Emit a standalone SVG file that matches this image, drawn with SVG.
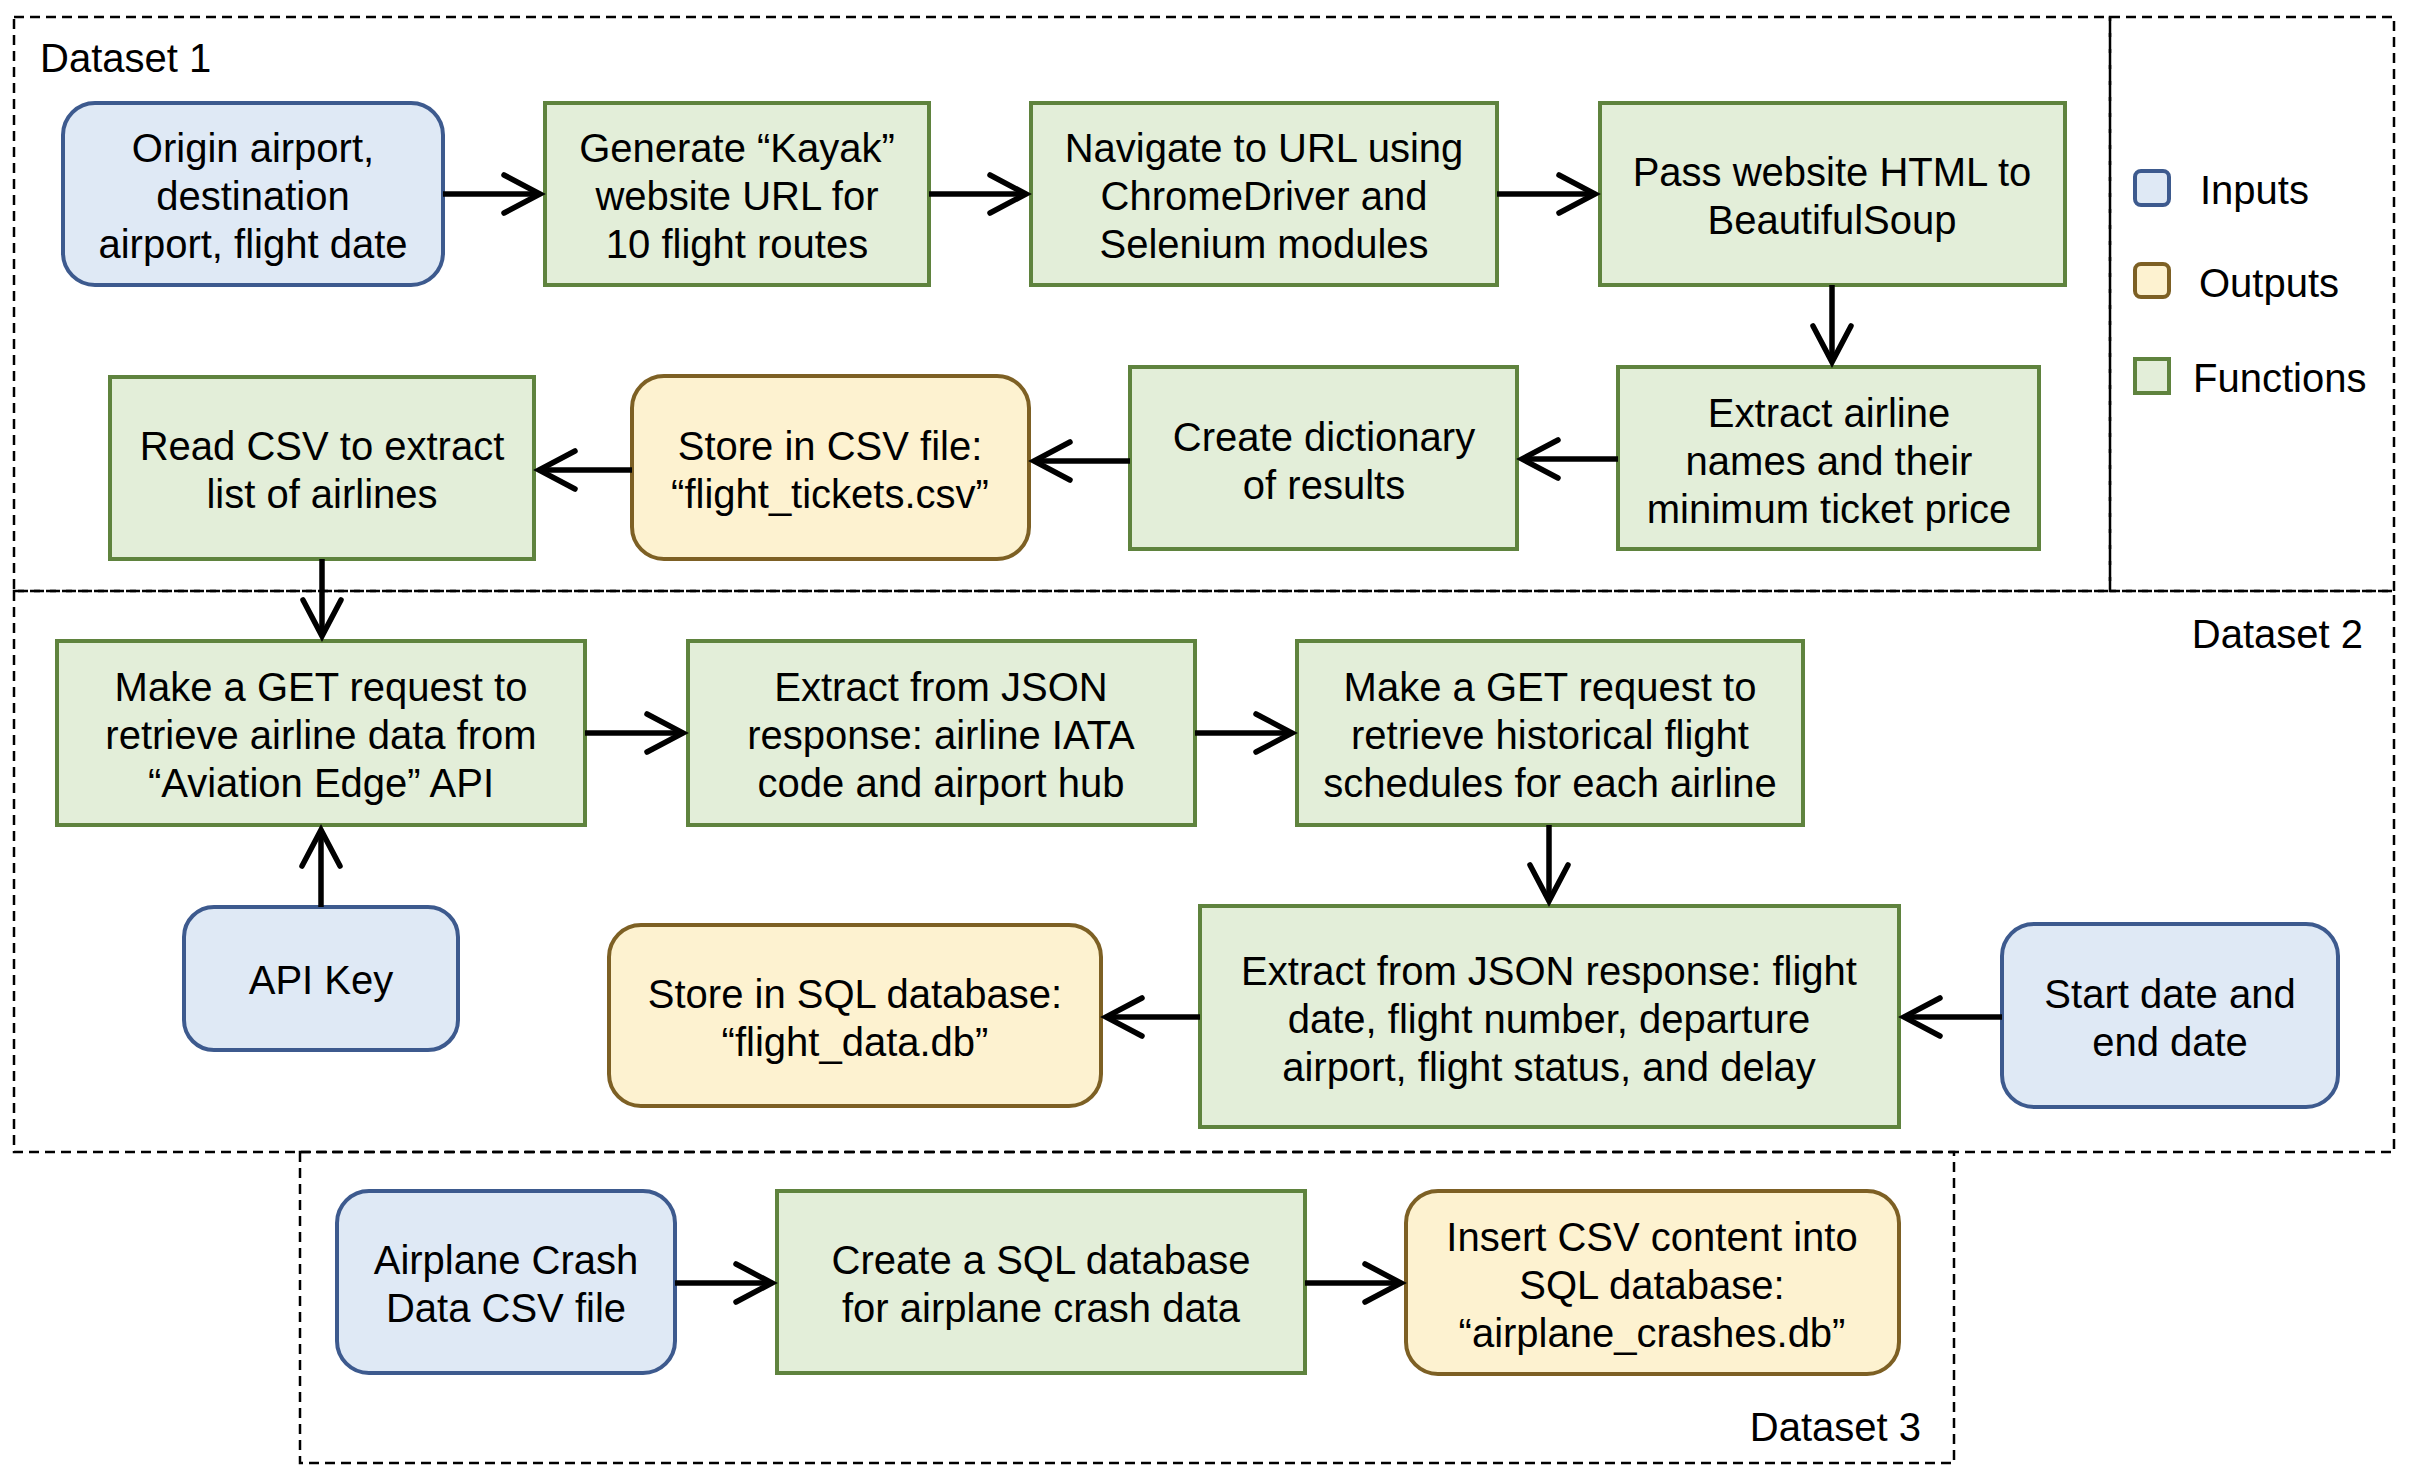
<svg xmlns="http://www.w3.org/2000/svg" width="2412" height="1480" viewBox="0 0 2412 1480">
<style>
.frame{fill:none;stroke:#000;stroke-width:2.5;stroke-dasharray:10 6}
.inp{fill:#dfe9f5;stroke:#3d5a8e;stroke-width:4}
.out{fill:#fdf2d0;stroke:#7d6024;stroke-width:4}
.fn{fill:#e3eed9;stroke:#5f833e;stroke-width:4}
text{font-family:"Liberation Sans",Arial,sans-serif;font-size:40px;fill:#000;transform:translateY(2px)}
.c{text-anchor:middle}
.conn path{fill:none;stroke:#000;stroke-width:5.5;marker-end:url(#ah)}
</style>
<defs>
<marker id="ah" markerUnits="userSpaceOnUse" viewBox="-45 -25 55 50" markerWidth="55" markerHeight="50" refX="0" refY="0" orient="auto">
<path d="M-36,-19 L0,0 L-36,19" fill="none" stroke="#000" stroke-width="5.5" stroke-linecap="round"/>
</marker>
</defs>
<rect width="2412" height="1480" fill="#fff"/>
<g id="frames">
<rect class="frame" x="14" y="17" width="2096" height="574"/>
<rect class="frame" x="2110" y="17" width="284" height="574"/>
<rect class="frame" x="14" y="591" width="2380" height="561"/>
<rect class="frame" x="300" y="1152" width="1654" height="311"/>
<text x="40" y="70">Dataset 1</text>
<text x="2363" y="646" text-anchor="end">Dataset 2</text>
<text x="1921" y="1439" text-anchor="end">Dataset 3</text>
</g>
<g id="legend">
<rect class="inp" x="2135" y="171" width="34" height="34" rx="6"/>
<text x="2200" y="202">Inputs</text>
<rect class="out" x="2135" y="264" width="34" height="33" rx="6"/>
<text x="2199" y="295">Outputs</text>
<rect class="fn" x="2135" y="359" width="34" height="34"/>
<text x="2193" y="390">Functions</text>
</g>
<g id="origin"><rect class="inp" x="63" y="103" width="380" height="182" rx="32"/>
<text class="c" x="253" y="160">Origin airport,</text><text class="c" x="253" y="208">destination</text><text class="c" x="253" y="256">airport, flight date</text></g>
<g id="generate"><rect class="fn" x="545" y="103" width="384" height="182"/>
<text class="c" x="737" y="160">Generate “Kayak”</text><text class="c" x="737" y="208">website URL for</text><text class="c" x="737" y="256">10 flight routes</text></g>
<g id="navigate"><rect class="fn" x="1031" y="103" width="466" height="182"/>
<text class="c" x="1264" y="160">Navigate to URL using</text><text class="c" x="1264" y="208">ChromeDriver and</text><text class="c" x="1264" y="256">Selenium modules</text></g>
<g id="pass"><rect class="fn" x="1600" y="103" width="465" height="182"/>
<text class="c" x="1832" y="184">Pass website HTML to</text><text class="c" x="1832" y="232">BeautifulSoup</text></g>
<g id="extract-airline"><rect class="fn" x="1618" y="367" width="421" height="182"/>
<text class="c" x="1829" y="425">Extract airline</text><text class="c" x="1829" y="473">names and their</text><text class="c" x="1829" y="521">minimum ticket price</text></g>
<g id="create-dict"><rect class="fn" x="1130" y="367" width="387" height="182"/>
<text class="c" x="1324" y="449">Create dictionary</text><text class="c" x="1324" y="497">of results</text></g>
<g id="store-csv"><rect class="out" x="632" y="376" width="397" height="183" rx="32"/>
<text class="c" x="830" y="458">Store in CSV file:</text><text class="c" x="830" y="506">“flight_tickets.csv”</text></g>
<g id="read-csv"><rect class="fn" x="110" y="377" width="424" height="182"/>
<text class="c" x="322" y="458">Read CSV to extract</text><text class="c" x="322" y="506">list of airlines</text></g>
<g id="get-airline"><rect class="fn" x="57" y="641" width="528" height="184"/>
<text class="c" x="321" y="699">Make a GET request to</text><text class="c" x="321" y="747">retrieve airline data from</text><text class="c" x="321" y="795">“Aviation Edge” API</text></g>
<g id="extract-iata"><rect class="fn" x="688" y="641" width="507" height="184"/>
<text class="c" x="941" y="699">Extract from JSON</text><text class="c" x="941" y="747">response: airline IATA</text><text class="c" x="941" y="795">code and airport hub</text></g>
<g id="get-history"><rect class="fn" x="1297" y="641" width="506" height="184"/>
<text class="c" x="1550" y="699">Make a GET request to</text><text class="c" x="1550" y="747">retrieve historical flight</text><text class="c" x="1550" y="795">schedules for each airline</text></g>
<g id="api-key"><rect class="inp" x="184" y="907" width="274" height="143" rx="30"/>
<text class="c" x="321" y="992">API Key</text></g>
<g id="extract-flight"><rect class="fn" x="1200" y="906" width="699" height="221"/>
<text class="c" x="1549" y="983">Extract from JSON response: flight</text><text class="c" x="1549" y="1031">date, flight number, departure</text><text class="c" x="1549" y="1079">airport, flight status, and delay</text></g>
<g id="start-date"><rect class="inp" x="2002" y="924" width="336" height="183" rx="32"/>
<text class="c" x="2170" y="1006">Start date and</text><text class="c" x="2170" y="1054">end date</text></g>
<g id="store-sql"><rect class="out" x="609" y="925" width="492" height="181" rx="32"/>
<text class="c" x="855" y="1006">Store in SQL database:</text><text class="c" x="855" y="1054">“flight_data.db”</text></g>
<g id="crash-csv"><rect class="inp" x="337" y="1191" width="338" height="182" rx="32"/>
<text class="c" x="506" y="1272">Airplane Crash</text><text class="c" x="506" y="1320">Data CSV file</text></g>
<g id="create-sql"><rect class="fn" x="777" y="1191" width="528" height="182"/>
<text class="c" x="1041" y="1272">Create a SQL database</text><text class="c" x="1041" y="1320">for airplane crash data</text></g>
<g id="insert-csv"><rect class="out" x="1406" y="1191" width="493" height="183" rx="32"/>
<text class="c" x="1652" y="1249">Insert CSV content into</text><text class="c" x="1652" y="1297">SQL database:</text><text class="c" x="1652" y="1345">“airplane_crashes.db”</text></g>
<g id="connectors" class="conn">
<path d="M443,194 H540"/>
<path d="M929,194 H1026"/>
<path d="M1497,194 H1595"/>
<path d="M1832,285 V362"/>
<path d="M1618,459 H1522"/>
<path d="M1130,461 H1034"/>
<path d="M632,470 H539"/>
<path d="M322,559 V636"/>
<path d="M321,907 V830"/>
<path d="M585,733 H683"/>
<path d="M1195,733 H1292"/>
<path d="M1549,825 V901"/>
<path d="M1200,1017 H1106"/>
<path d="M2002,1017 H1904"/>
<path d="M675,1283 H772"/>
<path d="M1305,1283 H1401"/>
</g>
</svg>
